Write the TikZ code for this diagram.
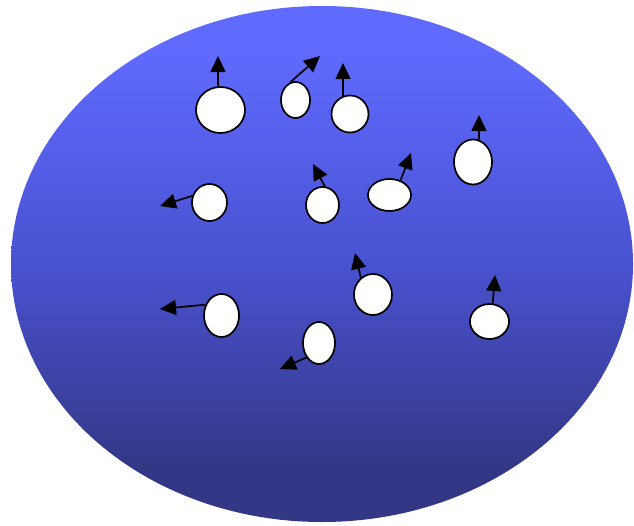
\documentclass[tikz,border=0pt]{standalone}
\usetikzlibrary{arrows.meta, shapes.geometric}

\definecolor{gastop}{RGB}{96,106,255}
\definecolor{gasmid}{RGB}{73,82,208}
\definecolor{gasbot}{RGB}{51,55,133}

\pgfdeclareverticalshading{gasfill}{100bp}{color(0bp)=(gasbot); color(30bp)=(gasbot);
    color(50bp)=(gasmid); color(71bp)=(gastop); color(100bp)=(gastop)}

\begin{document}
\begin{tikzpicture}[x=1pt, y=-1pt,
    particle/.style={ellipse, draw, fill=white, line width=1.7pt, inner sep=0pt},
    spin/.style={-{Triangle[length=16pt, width=15pt]}, line width=1.7pt}]

    \useasboundingbox (0,0) rectangle (634,525);

    % gas cloud
    \shade[shading=gasfill]
        (322,264) ellipse [x radius=311pt, y radius=258pt];

    % top row
    \node[particle, minimum width=49pt, minimum height=46pt] (p1) at (220.5,110) {};
    \node[particle, minimum width=29pt, minimum height=36pt] (p2) at (295.5,100) {};
    \node[particle, minimum width=37pt, minimum height=37pt] (p3) at (350,114) {};
    \node[particle, minimum width=38pt, minimum height=45pt] (p4) at (473,162) {};

    % middle row
    \node[particle, minimum width=35pt, minimum height=37pt] (p5) at (209.5,202.5) {};
    \node[particle, minimum width=33pt, minimum height=36pt] (p6) at (322.5,205) {};
    \node[particle, minimum width=43pt, minimum height=32pt] (p7) at (389.5,195) {};

    % bottom row
    \node[particle, minimum width=38pt, minimum height=41pt] (p8) at (373,294.5) {};
    \node[particle, minimum width=35pt, minimum height=43pt] (p9) at (221.5,315.5) {};
    \node[particle, minimum width=32pt, minimum height=42pt] (p10) at (319,343) {};
    \node[particle, minimum width=39pt, minimum height=35pt] (p11) at (489.5,321.5) {};

    % arrow tips
    \coordinate (t1) at (218,56);
    \coordinate (t2) at (320,56);
    \coordinate (t3) at (343,63);
    \coordinate (t4) at (479,115);
    \coordinate (t5) at (160,206);
    \coordinate (t6) at (313,164);
    \coordinate (t7) at (411,153);
    \coordinate (t8) at (355,253);
    \coordinate (t9) at (160,309);
    \coordinate (t10) at (280,369);
    \coordinate (t11) at (495,275);

    % velocities
    \draw[spin] (p1.96) -- (t1);
    \draw[spin] (p2.107) -- (t2);
    \draw[spin] (p3.111) -- (t3);
    \draw[spin] (p4.75) -- (t4);
    \draw[spin] (p5.159) -- (t5);
    \draw[spin] (p6.83) -- (t6);
    \draw[spin] (p7.53) -- (t7);
    \draw[spin] (p8.126) -- (t8);
    \draw[spin] (p9.146) -- (t9);
    \draw[spin] (p10.229) -- (t10);
    \draw[spin] (p11.80) -- (t11);

\end{tikzpicture}
\end{document}
